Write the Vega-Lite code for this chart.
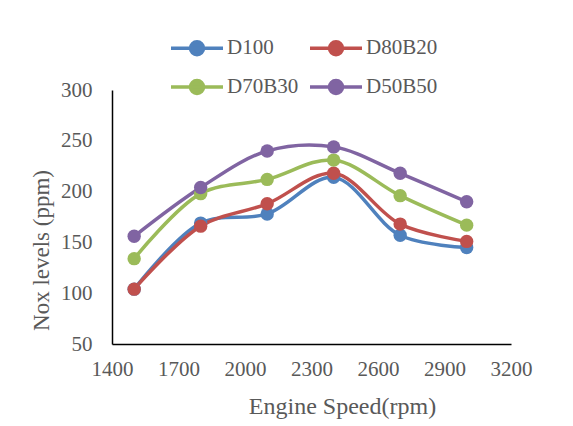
{
  "$schema": "https://vega.github.io/schema/vega-lite/v6.json",
  "width": 399,
  "height": 254,
  "autosize": {"type": "none"},
  "padding": {"left": 112, "top": 90, "right": 62, "bottom": 82},
  "background": "white",
  "config": {
    "view": {"stroke": null},
    "font": "Liberation Serif"
  },
  "data": {
    "values": [
      {"speed": 1500, "series": "D100", "nox": 104},
      {"speed": 1800, "series": "D100", "nox": 169},
      {"speed": 2100, "series": "D100", "nox": 178},
      {"speed": 2400, "series": "D100", "nox": 214},
      {"speed": 2700, "series": "D100", "nox": 157},
      {"speed": 3000, "series": "D100", "nox": 145},
      {"speed": 1500, "series": "D80B20", "nox": 104},
      {"speed": 1800, "series": "D80B20", "nox": 166},
      {"speed": 2100, "series": "D80B20", "nox": 188},
      {"speed": 2400, "series": "D80B20", "nox": 218},
      {"speed": 2700, "series": "D80B20", "nox": 168},
      {"speed": 3000, "series": "D80B20", "nox": 151},
      {"speed": 1500, "series": "D70B30", "nox": 134},
      {"speed": 1800, "series": "D70B30", "nox": 198},
      {"speed": 2100, "series": "D70B30", "nox": 212},
      {"speed": 2400, "series": "D70B30", "nox": 231},
      {"speed": 2700, "series": "D70B30", "nox": 196},
      {"speed": 3000, "series": "D70B30", "nox": 167},
      {"speed": 1500, "series": "D50B50", "nox": 156},
      {"speed": 1800, "series": "D50B50", "nox": 204},
      {"speed": 2100, "series": "D50B50", "nox": 240},
      {"speed": 2400, "series": "D50B50", "nox": 244},
      {"speed": 2700, "series": "D50B50", "nox": 218},
      {"speed": 3000, "series": "D50B50", "nox": 190}
    ]
  },
  "mark": {
    "type": "line",
    "interpolate": "catmull-rom",
    "strokeWidth": 3.5,
    "point": {"filled": true, "size": 180, "opacity": 1}
  },
  "encoding": {
    "x": {
      "field": "speed",
      "type": "quantitative",
      "scale": {"domain": [1400, 3200], "nice": false, "zero": false},
      "axis": {
        "values": [1400, 1700, 2000, 2300, 2600, 2900, 3200],
        "format": "d",
        "labelOverlap": false,
        "labelFlush": false,
        "title": "Engine Speed(rpm)",
        "titleX": 230,
        "grid": false,
        "ticks": false,
        "domainColor": "black",
        "domainWidth": 1.5,
        "labelFont": "Liberation Serif",
        "labelFontSize": 21,
        "labelColor": "#595959",
        "labelPadding": 14,
        "titleFont": "Liberation Serif",
        "titleFontSize": 24,
        "titleFontWeight": "normal",
        "titleColor": "#595959",
        "titlePadding": 15
      }
    },
    "y": {
      "field": "nox",
      "type": "quantitative",
      "scale": {"domain": [50, 300], "nice": false, "zero": false},
      "axis": {
        "values": [50, 100, 150, 200, 250, 300],
        "labelOverlap": false,
        "labelFlush": false,
        "title": "Nox levels (ppm)",
        "titleY": 160,
        "grid": false,
        "ticks": false,
        "domainColor": "black",
        "domainWidth": 1.5,
        "labelFont": "Liberation Serif",
        "labelFontSize": 21,
        "labelColor": "#595959",
        "labelPadding": 20,
        "titleFont": "Liberation Serif",
        "titleFontSize": 23,
        "titleFontWeight": "normal",
        "titleColor": "#595959",
        "titlePadding": 7
      }
    },
    "color": {
      "field": "series",
      "type": "nominal",
      "scale": {
        "domain": ["D100", "D70B30", "D80B20", "D50B50"],
        "range": ["#4F81BD", "#9BBB59", "#C0504D", "#8064A2"]
      },
      "legend": {
        "title": null,
        "orient": "none",
        "legendX": 70,
        "legendY": -57,
        "columns": 2,
        "columnPadding": 4,
        "rowPadding": 10,
        "symbolType": "M-2,0H2M-0.5,0A0.5,0.5,0,1,1,0.5,0A0.5,0.5,0,1,1,-0.5,0",
        "symbolSize": 676,
        "symbolStrokeWidth": 3.5,
        "symbolOffset": 0,
        "labelOffset": 15,
        "labelFont": "Liberation Serif",
        "labelFontSize": 21,
        "labelColor": "#595959",
        "encode": {
          "symbols": {
            "update": {
              "fill": {"scale": "color", "field": "value"},
              "stroke": {"scale": "color", "field": "value"},
              "opacity": {"value": 1}
            }
          }
        }
      }
    }
  }
}
